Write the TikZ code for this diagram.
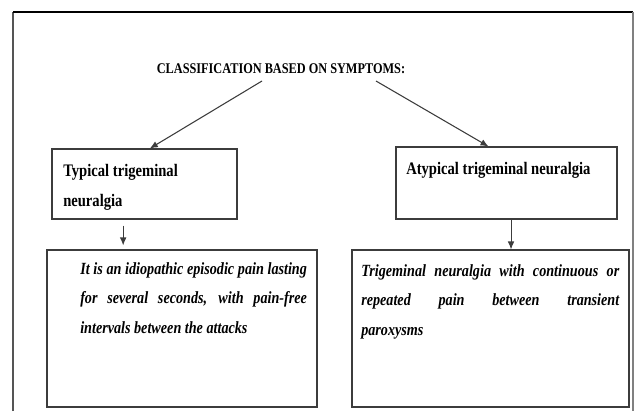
\documentclass[tikz,border=0pt]{standalone}
\usepackage{fontspec}
\usepackage{xcolor}
\usepackage{tikz}
\usetikzlibrary{arrows.meta,fit}
\setmainfont{Liberation Serif}
\newfontfamily\narrowserif[FakeStretch=0.83]{Liberation Serif}
\definecolor{lineGrey}{RGB}{60,60,60}
\definecolor{frameGrey}{RGB}{85,85,85}

\begin{document}
\begin{tikzpicture}[x=0.75pt,y=-0.75pt,
    box/.style={draw=lineGrey,line width=0.8pt,inner sep=0pt},
    hdtext/.style={inner sep=0pt,anchor=north west,align=left,
      font=\narrowserif\bfseries\fontsize{13.2}{22.5}\selectfont},
    desctext/.style={inner sep=0pt,anchor=north west,align=justify,text width=#1,
      font=\narrowserif\bfseries\itshape\fontsize{12.8}{22.3}\selectfont},
    arr/.style={draw=lineGrey,line width=0.8pt,-{Latex[length=6pt,width=5pt]}}]
      % page is 635x411 px, one unit = one px, y pointing down
      \useasboundingbox (0,0) rectangle (635,411);
      % frame round the figure (bottom edge cut off)
      \draw[frameGrey,line width=1.6pt] (13,411) -- (13,12);
      \draw[black,line width=1.1pt] (13,12) -- (633,12);
      \draw[gray,line width=0.8pt] (633,12) -- (633,411);
      % heading
      \node[inner sep=1pt,font=\narrowserif\bfseries\fontsize{11.1}{13}\selectfont] (symp) at (281,69) {CLASSIFICATION BASED ON SYMPTOMS:};
      \coordinate (sympL) at (262,81);
      \coordinate (sympR) at (376,81);
      % boxes: corners in px
      \node[box,fit={(52,149) (237,219)}] (typ) {};
      \node[box,fit={(396,147) (617,219)}] (atyp) {};
      \node[box,fit={(47,250) (317,407)}] (typdesc) {};
      \node[box,fit={(352,250) (629,407)}] (atypdesc) {};
      % texts in the boxes
      \node[hdtext] (typtxt) at (63,164) {Typical trigeminal\\neuralgia};
      \node[hdtext] (atyptxt) at (406,162) {Atypical trigeminal neuralgia};
      \node[desctext=170pt] (typdesctxt) at (80,262) {It is an idiopathic episodic pain lasting\linebreak for several seconds, with pain-free\linebreak intervals between the attacks};
      \node[desctext=193.5pt] (atypdesctxt) at (361,264) {Trigeminal neuralgia with continuous or\linebreak repeated pain between transient\linebreak paroxysms};
      % arrows
      \draw[arr] (sympL) -- ([xshift=4pt]typ.north);
      \draw[arr] (sympR) -- ([xshift=-13.5pt]atyp.north);
      \draw[arr] ([xshift=-16pt,yshift=-4.5pt]typ.south) -- ([xshift=-16pt,yshift=3pt]typ.south |- typdesc.north);
      \draw[arr] ([xshift=3.4pt]atyp.south) -- ([xshift=3.4pt]atyp.south |- atypdesc.north);
    \end{tikzpicture}
\end{document}
